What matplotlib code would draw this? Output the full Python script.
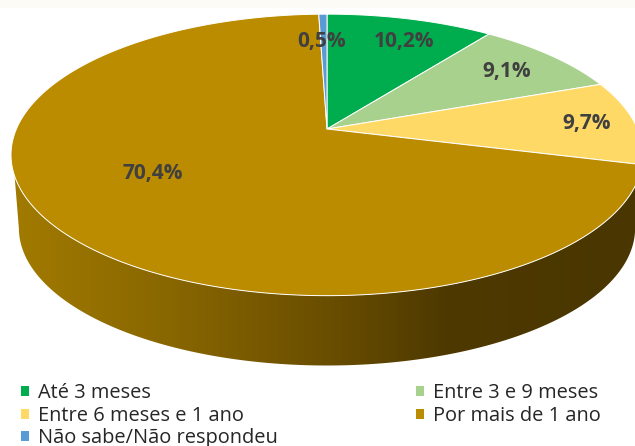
import numpy as np
import matplotlib
matplotlib.use("Agg")
import matplotlib.pyplot as plt
from matplotlib.colors import LinearSegmentedColormap
from matplotlib.patches import Patch, Polygon

categories = ["Até 3 meses", "Entre 3 e 9 meses", "Entre 6 meses e 1 ano",
              "Por mais de 1 ano", "Não sabe/Não respondeu"]
values = [10.2, 9.1, 9.7, 70.4, 0.5]
labels = ["10,2%", "9,1%", "9,7%", "70,4%", "0,5%"]
colors = ["#00AD4E", "#A9D18E", "#FFD966", "#BC8C00", "#5B9BD5"]
label_xy = [(404, 41), (507, 72), (587, 124), (153, 173), (322, 41)]

CX, CY = 327, 129
K, BX, BY = 0.184, 310.6, 136.0
DEPTH_SCALE, DEPTH_Y = 0.975, 74.0


def project(theta, r=1.0):
    x, y = r * np.sin(theta), r * np.cos(theta)
    d = 1 + K * y
    return CX + BX * x / d, CY - BY * y / d


fig = plt.figure(figsize=(6.35, 4.46), dpi=100)
ax = fig.add_axes([0, 0, 1, 1])
ax.set_xlim(0, 635)
ax.set_ylim(446, 0)
ax.axis("off")
ax.axhspan(0, 8, color="#FCFBF6", lw=0)

# side wall
tt = np.linspace(0, 2 * np.pi, 1441)
xt, yt = project(tt)
xl = CX + (xt - CX) * DEPTH_SCALE
yl = CY + (yt - CY) * DEPTH_SCALE + DEPTH_Y
front_up = (yt > 176)
order = np.argsort(xt[front_up])
ux, uy = xt[front_up][order], yt[front_up][order]
lo_mask = yl > (yl.min() + yl.max()) / 2
lorder = np.argsort(-xl[lo_mask])
lx, ly = xl[lo_mask][lorder], yl[lo_mask][lorder]
side = Polygon(np.c_[np.r_[ux, lx], np.r_[uy, ly]], closed=True, fc="none", ec="none",
               transform=ax.transData)
ax.add_patch(side)
cmap = LinearSegmentedColormap.from_list(
    "side", [(0, "#A47C00"), (0.25, "#8A6800"), (0.5, "#6C5000"), (0.7, "#4E3900"), (1, "#4A3600")])
im = ax.imshow(np.linspace(0, 1, 635)[None, :], extent=(0, 635, 446, 0), cmap=cmap,
               aspect="auto", zorder=1)
im.set_clip_path(side)
ax.set_xlim(0, 635)
ax.set_ylim(446, 0)

# top face
fractions = np.cumsum([0] + values) / sum(values)
for i, c in enumerate(colors):
    th = 2 * np.pi * np.linspace(fractions[i], fractions[i + 1], 300)
    x, y = project(th)
    ax.fill(np.r_[CX, x], np.r_[CY, y], fc=c, ec="#FFFFFF", lw=0.7, zorder=2, joinstyle="round")

for (lx_, ly_), t in zip(label_xy, labels):
    ax.text(lx_, ly_, t, ha="center", va="center", family="Open Sans", weight="bold",
            fontsize=15, color="#404040", zorder=4)

handles = [Patch(fc=c, ec="none", label=n) for c, n in zip(colors, categories)]
order_leg = [0, 2, 4, 1, 3]
leg = ax.legend([handles[i] for i in order_leg], [categories[i] for i in order_leg], ncol=2,
                loc="upper left", bbox_to_anchor=(21 / 635, 1 - 383.5 / 446), bbox_transform=fig.transFigure,
                frameon=False, prop={"family": "Open Sans", "size": 14.4}, labelspacing=0.12,
                handlelength=0.4, handleheight=0.4, handletextpad=0.45, columnspacing=6.9,
                borderpad=0, borderaxespad=0)
for t in leg.get_texts():
    t.set_color("#262626")

fig.savefig("out.png", dpi=100)
